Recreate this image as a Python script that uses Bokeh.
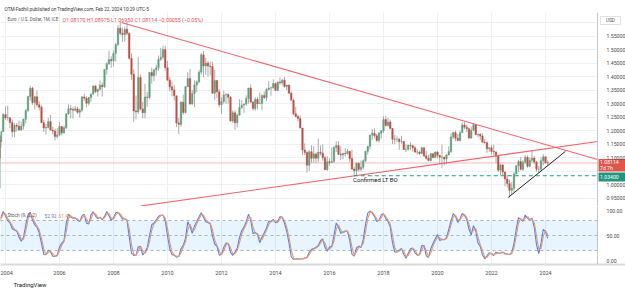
import numpy as np
import pandas as pd
from bokeh.plotting import figure
from bokeh.layouts import column
from bokeh.models import (Range1d, FixedTicker, NumeralTickFormatter, Label,
                          BoxAnnotation, ColumnDataSource, Title)
from bokeh.core.properties import value
from bokeh.embed import file_html
from bokeh.resources import INLINE

FONT = "Roboto"

# ---------------- data (EUR/USD monthly) ----------------
start_year, start_month = 2002, 11
first_open = 0.9890
closes = [
    0.9925, 1.0490,  # 2002 Nov-Dec
    1.0725, 1.0775, 1.0905, 1.1180, 1.1820, 1.1500, 1.1240, 1.0990, 1.1650, 1.1596, 1.1975, 1.2597,  # 2003
    1.2475, 1.2480, 1.2308, 1.1965, 1.2200, 1.2170, 1.2025, 1.2175, 1.2430, 1.2750, 1.3265, 1.3570,  # 2004
    1.3040, 1.3255, 1.2960, 1.2870, 1.2300, 1.2100, 1.2125, 1.2340, 1.2025, 1.1990, 1.1790, 1.1845,  # 2005
    1.2155, 1.1925, 1.2115, 1.2625, 1.2815, 1.2790, 1.2760, 1.2810, 1.2680, 1.2760, 1.3250, 1.3200,  # 2006
    1.3015, 1.3225, 1.3355, 1.3650, 1.3450, 1.3535, 1.3685, 1.3630, 1.4265, 1.4480, 1.4630, 1.4590,  # 2007
    1.4860, 1.5185, 1.5790, 1.5600, 1.5550, 1.5750, 1.5600, 1.4675, 1.4085, 1.2735, 1.2695, 1.3970,  # 2008
    1.2805, 1.2665, 1.3250, 1.3230, 1.4150, 1.4030, 1.4245, 1.4330, 1.4640, 1.4720, 1.5000, 1.4325,  # 2009
    1.3865, 1.3625, 1.3510, 1.3290, 1.2290, 1.2235, 1.3050, 1.2675, 1.3630, 1.3935, 1.2985, 1.3380,  # 2010
    1.3695, 1.3805, 1.4165, 1.4805, 1.4395, 1.4500, 1.4390, 1.4375, 1.3390, 1.3860, 1.3440, 1.2960,  # 2011
    1.3080, 1.3325, 1.3340, 1.3235, 1.2365, 1.2665, 1.2300, 1.2575, 1.2860, 1.2955, 1.2985, 1.3195,  # 2012
    1.3580, 1.3060, 1.2820, 1.3165, 1.2995, 1.3010, 1.3300, 1.3225, 1.3525, 1.3580, 1.3590, 1.3745,  # 2013
    1.3485, 1.3800, 1.3770, 1.3870, 1.3635, 1.3690, 1.3390, 1.3130, 1.2630, 1.2525, 1.2450, 1.2100,  # 2014
    1.1290, 1.1195, 1.0730, 1.1225, 1.0985, 1.1145, 1.0985, 1.1210, 1.1175, 1.1005, 1.0565, 1.0860,  # 2015
    1.0830, 1.0870, 1.1380, 1.1455, 1.1130, 1.1105, 1.1175, 1.1160, 1.1240, 1.0980, 1.0590, 1.0520,  # 2016
    1.0800, 1.0575, 1.0650, 1.0895, 1.1240, 1.1425, 1.1840, 1.1905, 1.1815, 1.1645, 1.1905, 1.2005,  # 2017
    1.2415, 1.2195, 1.2325, 1.2080, 1.1690, 1.1685, 1.1690, 1.1600, 1.1605, 1.1310, 1.1315, 1.1465,  # 2018
    1.1445, 1.1370, 1.1215, 1.1215, 1.1165, 1.1370, 1.1075, 1.0985, 1.0900, 1.1150, 1.1015, 1.1215,  # 2019
    1.1095, 1.1025, 1.1030, 1.0955, 1.1105, 1.1235, 1.1775, 1.1935, 1.1720, 1.1645, 1.1925, 1.2215,  # 2020
    1.2135, 1.2075, 1.1730, 1.2020, 1.2225, 1.1855, 1.1870, 1.1805, 1.1580, 1.1560, 1.1335, 1.1370,  # 2021
    1.1235, 1.1220, 1.1065, 1.0545, 1.0735, 1.0480, 1.0220, 1.0055, 0.9800, 0.9880, 1.0405, 1.0705,  # 2022
    1.0865, 1.0575, 1.0840, 1.1020, 1.0690, 1.0910, 1.0995, 1.0845, 1.0575, 1.0575, 1.0890, 1.1040,  # 2023
    1.0817, 1.0811,  # 2024 Jan-Feb
]
highs = [
    1.0140, 1.0500,
    1.0870, 1.0940, 1.1080, 1.1225, 1.1935, 1.1935, 1.1620, 1.1390, 1.1680, 1.1830, 1.1998, 1.2648,
    1.2899, 1.2929, 1.2490, 1.2422, 1.2275, 1.2289, 1.2384, 1.2339, 1.2440, 1.2813, 1.3294, 1.3667,
    1.3625, 1.3290, 1.3480, 1.3093, 1.2937, 1.2410, 1.2250, 1.2475, 1.2590, 1.2150, 1.2080, 1.2100,
    1.2323, 1.2170, 1.2200, 1.2640, 1.2980, 1.2950, 1.2887, 1.2912, 1.2880, 1.2825, 1.3283, 1.3365,
    1.3270, 1.3255, 1.3374, 1.3682, 1.3685, 1.3552, 1.3852, 1.3800, 1.4280, 1.4527, 1.4967, 1.4750,
    1.4970, 1.5242, 1.5905, 1.6019, 1.5818, 1.5845, 1.6038, 1.5624, 1.4865, 1.4275, 1.3300, 1.4720,
    1.4070, 1.3070, 1.3738, 1.3430, 1.4160, 1.4330, 1.4300, 1.4445, 1.4780, 1.5065, 1.5145, 1.5140,
    1.4580, 1.3990, 1.3820, 1.3690, 1.3300, 1.2470, 1.3100, 1.3335, 1.3650, 1.4160, 1.4280, 1.3500,
    1.3860, 1.3860, 1.4250, 1.4880, 1.4940, 1.4700, 1.4580, 1.4550, 1.4550, 1.4245, 1.3880, 1.3550,
    1.3235, 1.3485, 1.3385, 1.3380, 1.3285, 1.2745, 1.2750, 1.2640, 1.3170, 1.3140, 1.3010, 1.3310,
    1.3590, 1.3710, 1.3110, 1.3245, 1.3245, 1.3415, 1.3345, 1.3450, 1.3570, 1.3830, 1.3620, 1.3895,
    1.3775, 1.3825, 1.3965, 1.3905, 1.3995, 1.3700, 1.3700, 1.3445, 1.3195, 1.2885, 1.2600, 1.2570,
    1.2110, 1.1535, 1.1245, 1.1290, 1.1465, 1.1435, 1.1200, 1.1715, 1.1460, 1.1495, 1.1080, 1.1060,
    1.0985, 1.1375, 1.1440, 1.1615, 1.1615, 1.1425, 1.1185, 1.1365, 1.1330, 1.1255, 1.1300, 1.0670,
    1.0830, 1.0830, 1.0905, 1.0950, 1.1265, 1.1445, 1.1845, 1.2070, 1.2090, 1.1880, 1.1960, 1.2025,
    1.2540, 1.2555, 1.2475, 1.2415, 1.2100, 1.1850, 1.1790, 1.1735, 1.1815, 1.1625, 1.1500, 1.1485,
    1.1570, 1.1490, 1.1450, 1.1325, 1.1265, 1.1410, 1.1410, 1.1250, 1.1110, 1.1180, 1.1175, 1.1240,
    1.1240, 1.1100, 1.1495, 1.1040, 1.1140, 1.1425, 1.1910, 1.1965, 1.2010, 1.1880, 1.2005, 1.2310,
    1.2350, 1.2245, 1.2115, 1.2150, 1.2265, 1.2255, 1.1895, 1.1910, 1.1910, 1.1690, 1.1615, 1.1385,
    1.1485, 1.1495, 1.1235, 1.1075, 1.0785, 1.0775, 1.0485, 1.0370, 1.0200, 1.0095, 1.0480, 1.0735,
    1.0930, 1.1035, 1.0930, 1.1095, 1.1090, 1.1010, 1.1275, 1.1065, 1.0880, 1.0695, 1.1015, 1.1140,
    1.1045, 1.0898,
]
lows = [
    0.9860, 0.9865,
    1.0335, 1.0640, 1.0500, 1.0620, 1.1180, 1.1410, 1.1100, 1.0760, 1.0765, 1.1540, 1.1380, 1.1962,
    1.2397, 1.2375, 1.2083, 1.1760, 1.1759, 1.1975, 1.2010, 1.2000, 1.2045, 1.2265, 1.2697, 1.3120,
    1.2956, 1.2793, 1.2865, 1.2746, 1.2290, 1.1954, 1.1866, 1.2080, 1.2010, 1.1868, 1.1640, 1.1710,
    1.1800, 1.1827, 1.1880, 1.2065, 1.2590, 1.2455, 1.2450, 1.2715, 1.2615, 1.2484, 1.2688, 1.3105,
    1.2865, 1.2936, 1.3063, 1.3325, 1.3387, 1.3265, 1.3480, 1.3262, 1.3580, 1.4080, 1.4430, 1.4328,
    1.4365, 1.4550, 1.5125, 1.5520, 1.5285, 1.5285, 1.5527, 1.4630, 1.3880, 1.2330, 1.2420, 1.2635,
    1.2755, 1.2458, 1.2455, 1.2887, 1.3165, 1.3750, 1.3830, 1.4045, 1.4220, 1.4580, 1.4630, 1.4220,
    1.3860, 1.3445, 1.3270, 1.3115, 1.2140, 1.1875, 1.2150, 1.2590, 1.2630, 1.3610, 1.2970, 1.2970,
    1.2870, 1.3430, 1.3750, 1.4080, 1.3970, 1.4070, 1.4000, 1.4050, 1.3360, 1.3145, 1.3210, 1.2860,
    1.2625, 1.3000, 1.3000, 1.3000, 1.2335, 1.2290, 1.2040, 1.2130, 1.2560, 1.2800, 1.2660, 1.2920,
    1.3000, 1.3020, 1.2745, 1.2745, 1.2795, 1.2990, 1.2755, 1.3170, 1.3105, 1.3490, 1.3295, 1.3545,
    1.3475, 1.3475, 1.3705, 1.3670, 1.3585, 1.3505, 1.3370, 1.3125, 1.2570, 1.2500, 1.2360, 1.2095,
    1.1100, 1.1100, 1.0460, 1.0520, 1.0820, 1.0820, 1.0810, 1.0850, 1.1085, 1.0895, 1.0560, 1.0520,
    1.0710, 1.0810, 1.0820, 1.1215, 1.1100, 1.0910, 1.0950, 1.1045, 1.1120, 1.0850, 1.0555, 1.0340,
    1.0340, 1.0495, 1.0495, 1.0570, 1.0840, 1.1120, 1.1310, 1.1660, 1.1720, 1.1575, 1.1555, 1.1715,
    1.1915, 1.2155, 1.2155, 1.2055, 1.1510, 1.1510, 1.1575, 1.1300, 1.1525, 1.1300, 1.1215, 1.1265,
    1.1290, 1.1235, 1.1175, 1.1110, 1.1105, 1.1160, 1.1025, 1.0925, 1.0880, 1.0880, 1.0980, 1.0980,
    1.0990, 1.0775, 1.0635, 1.0725, 1.0765, 1.1095, 1.1185, 1.1695, 1.1610, 1.1610, 1.1600, 1.1925,
    1.2060, 1.1950, 1.1705, 1.1705, 1.1985, 1.1845, 1.1750, 1.1665, 1.1565, 1.1525, 1.1185, 1.1220,
    1.1120, 1.1105, 1.0805, 1.0470, 1.0350, 1.0360, 0.9950, 0.9900, 0.9535, 0.9630, 0.9730, 1.0395,
    1.0480, 1.0535, 1.0515, 1.0790, 1.0635, 1.0660, 1.0835, 1.0765, 1.0490, 1.0450, 1.0515, 1.0725,
    1.0795, 1.0695,
]

year_ticks = [2004, 2006, 2008, 2010, 2012, 2014, 2016, 2018, 2020, 2022, 2024]
price_ticks = [0.95, 1.00, 1.05, 1.10, 1.15, 1.20, 1.25, 1.30, 1.35, 1.40, 1.45, 1.50, 1.55]
stoch_ticks = [0, 50, 100]
stoch_levels = [20, 50, 80]

# user drawings (anchor points)
desc_line_x = [2008.29, 2025.93]
desc_line_y = [1.6000, 1.094]
asc_line_x = [2009.0, 2025.93]
asc_line_y = [0.922, 1.1604]
support_x = [2022.62, 2024.74]
support_y = [0.954, 1.124]
breakout_x = [2016.9, 2025.93]
breakout_y = [1.034, 1.034]
breakout_text = "Confirmed LT BO"
breakout_text_x, breakout_text_y = 2017.70, 1.020

last_price = 1.08114
breakout_price = 1.03400
countdown = "7d 7h"
header = "OTM-Fadhil published on TradingView.com, Feb 22, 2024 10:29 UTC-5"
legend_name = "Euro / U.S. Dollar, 1M, ICE"
legend_ohlc = "O1.08170 H1.08975 L1.06950 C1.08114 \u22120.00055 (\u22120.05%)"
stoch_name = "Stoch (9, 2, 2)"
stoch_legend_k = "52.92"
stoch_legend_d = "61.40"

# ---------------- derived ----------------
n = len(closes)
xs = [start_year + (start_month - 1 + i) / 12 for i in range(n)]
opens = [first_open] + closes[:-1]          # FX monthly bar opens at prior close
UP, DOWN, WICK = "#5fa07e", "#bf4d40", "#ababab"
src = ColumnDataSource(dict(
    x=xs, high=highs, low=lows,
    top=[max(o, c) for o, c in zip(opens, closes)],
    bottom=[min(o, c) for o, c in zip(opens, closes)],
    color=[UP if c >= o else DOWN for o, c in zip(opens, closes)],
))

h = np.array(highs); l = np.array(lows); c = np.array(closes)
raw = np.full(n, np.nan)
for i in range(8, n):
    hh = h[i - 8:i + 1].max(); ll = l[i - 8:i + 1].min()
    raw[i] = 100 * (c[i] - ll) / (hh - ll)
k = pd.Series(raw).rolling(2).mean()
d = k.rolling(2).mean()

X0, X_END = 2003.815, 2026.963      # visible time span incl. price-scale strip
X1 = 2025.926                       # price scale position (right edge of chart area)
GRID = "#eef0f3"
AXC = "#c6c6c6"
LBL = "#4a4a4a"
TAG_RED, TAG_GREEN = "#e0564c", "#23957e"

# ---------------- main pane ----------------
p = figure(width=625, height=206, x_range=Range1d(X0, X_END), y_range=Range1d(0.9204, 1.6368),
           output_backend="svg", toolbar_location=None, x_axis_location=None,
           y_axis_location="right", min_border_left=0, min_border_right=0,
           min_border_top=12, min_border_bottom=0, title=header)
p.title.text_font = FONT
p.title.text_font_size = "4.7px"
p.title.text_font_style = "normal"
p.title.text_color = "#333333"
p.title.align = "left"
p.title.offset = 4
p.title.standoff = 2
p.outline_line_color = None
p.background_fill_color = "white"
p.xgrid.ticker = FixedTicker(ticks=year_ticks)
p.xgrid.grid_line_color = GRID
p.ygrid.grid_line_color = GRID
p.ygrid.ticker = FixedTicker(ticks=price_ticks + [1.60])
# white strip behind the price scale (hides grid there)
p.add_layout(BoxAnnotation(left=X1, fill_color="white", fill_alpha=1, line_alpha=0,
                           level="underlay"))

ya = p.yaxis[0]
ya.fixed_location = X1
ya.ticker = FixedTicker(ticks=price_ticks)
ya.formatter = NumeralTickFormatter(format="0.00000")
ya.major_label_overrides = {1.05: ""}
ya.major_label_text_font_size = "5.2px"
ya.major_label_text_font = FONT
ya.major_label_text_color = LBL
ya.major_tick_line_color = None
ya.minor_tick_line_color = None
ya.major_label_standoff = 3
ya.axis_line_color = AXC

p.line([X0, X1], [last_price, last_price], line_color="#f6b9bc", line_width=1)

p.segment("x", "high", "x", "low", source=src, line_color=WICK, line_width=1)
p.vbar(x="x", width=0.058, top="top", bottom="bottom", source=src,
       fill_color="color", line_color="color", line_width=0.4)

RED = "#f0646c"
p.line(desc_line_x, desc_line_y, line_color=RED, line_width=1.1)
p.line(asc_line_x, asc_line_y, line_color=RED, line_width=1.1)
p.line(support_x, support_y, line_color="#222222", line_width=1)
p.line(breakout_x, breakout_y, line_color="#1f9e86", line_width=1, line_dash="4 3")
p.add_layout(Label(x=breakout_text_x, y=breakout_text_y, text=breakout_text,
                   text_font=FONT, text_font_size="6px", text_color="#131722",
                   text_align="center", text_baseline="middle"))

p.add_layout(Label(x=7, y=187, x_units="screen", y_units="screen", text=legend_name,
                   text_font=FONT, text_font_size="4.5px", text_color="#555555",
                   text_baseline="middle"))
p.add_layout(Label(x=62, y=187, x_units="screen", y_units="screen", text=legend_ohlc,
                   text_font=FONT, text_font_size="5.3px", text_color="#d9534f",
                   text_baseline="middle"))

# price-scale tags (in the strip right of the chart area)
tag_left = X1 + 0.037
p.quad(left=[X1 + 0.11], right=[X1 + 0.85], top=[1.6220], bottom=[1.5925],
       fill_color="white", line_color="#d6d9e0", line_width=0.8)
p.text(x=[X1 + 0.48], y=[1.6072], text=["USD"], text_font=value(FONT),
       text_font_size="4.8px", text_color="#555555", text_align="center",
       text_baseline="middle")
p.quad(left=[tag_left], right=[X_END], top=[last_price + 0.0147],
       bottom=[last_price - 0.0315], fill_color=TAG_RED, line_color=None)
p.text(x=[tag_left + 0.06, tag_left + 0.06], y=[last_price + 0.0025, last_price - 0.0197],
       text=[f"{last_price:.5f}", countdown], text_font=value(FONT),
       text_font_size="5.1px", text_color="white", text_baseline="middle")
p.quad(left=[tag_left], right=[X_END], top=[breakout_price + 0.0119],
       bottom=[breakout_price - 0.0213], fill_color=TAG_GREEN, line_color=None)
p.text(x=[tag_left + 0.06], y=[breakout_price - 0.0047], text=[f"{breakout_price:.5f}"],
       text_font=value(FONT), text_font_size="5.1px", text_color="white",
       text_baseline="middle")

# ---------------- stochastic pane ----------------
s = figure(width=625, height=84, x_range=p.x_range, y_range=Range1d(-8, 108),
           output_backend="svg", toolbar_location=None, y_axis_location="right",
           min_border_left=0, min_border_right=0, min_border_top=0,
           min_border_bottom=26, title=None)
s.outline_line_color = None
s.ygrid.visible = False
s.xgrid.ticker = FixedTicker(ticks=year_ticks)
s.xgrid.grid_line_color = GRID
sy = s.yaxis[0]
sy.fixed_location = X1
sy.ticker = FixedTicker(ticks=stoch_ticks)
sy.formatter = NumeralTickFormatter(format="0.00")
sy.major_label_text_font_size = "5.2px"
sy.major_label_text_font = FONT
sy.major_label_text_color = LBL
sy.major_tick_line_color = None
sy.minor_tick_line_color = None
sy.major_label_standoff = 3
sy.axis_line_color = AXC
sx = s.xaxis[0]
sx.ticker = FixedTicker(ticks=year_ticks)
sx.formatter = NumeralTickFormatter(format="0")
sx.major_label_text_font_size = "5.5px"
sx.major_label_text_font = FONT
sx.major_label_text_color = LBL
sx.major_tick_line_color = None
sx.minor_tick_line_color = None
sx.major_label_standoff = 0
sx.axis_line_color = "#d9d9d9"
sx.axis_line_width = 2

s.add_layout(Title(text="TradingView", text_font=FONT, text_font_size="6px",
                   text_font_style="normal", text_color="#131722", align="left",
                   offset=13, standoff=2), "below")

s.add_layout(BoxAnnotation(bottom=stoch_levels[0], top=stoch_levels[2], right=X1,
                           fill_color="#2196f3", fill_alpha=0.1, line_alpha=0))
for lv in stoch_levels:
    s.line([X0, X1], [lv, lv], line_color="#b4b8c2", line_width=1, line_dash="3 3")
s.line(xs, k.values, line_color="#5c80f4", line_width=1.1)
s.line(xs, d.values, line_color="#f59a5c", line_width=1.1)

s.add_layout(Label(x=7, y=49, x_units="screen", y_units="screen", text=stoch_name,
                   text_font=FONT, text_font_size="4.8px", text_color="#555555",
                   text_baseline="middle"))
s.add_layout(Label(x=44, y=49, x_units="screen", y_units="screen", text=stoch_legend_k,
                   text_font=FONT, text_font_size="4.8px", text_color="#4f78f0",
                   text_baseline="middle"))
s.add_layout(Label(x=58, y=49, x_units="screen", y_units="screen", text=stoch_legend_d,
                   text_font=FONT, text_font_size="4.8px", text_color="#f28a45",
                   text_baseline="middle"))

layout = column(p, s, spacing=0)
open("out.html", "w").write(file_html(layout, INLINE))
